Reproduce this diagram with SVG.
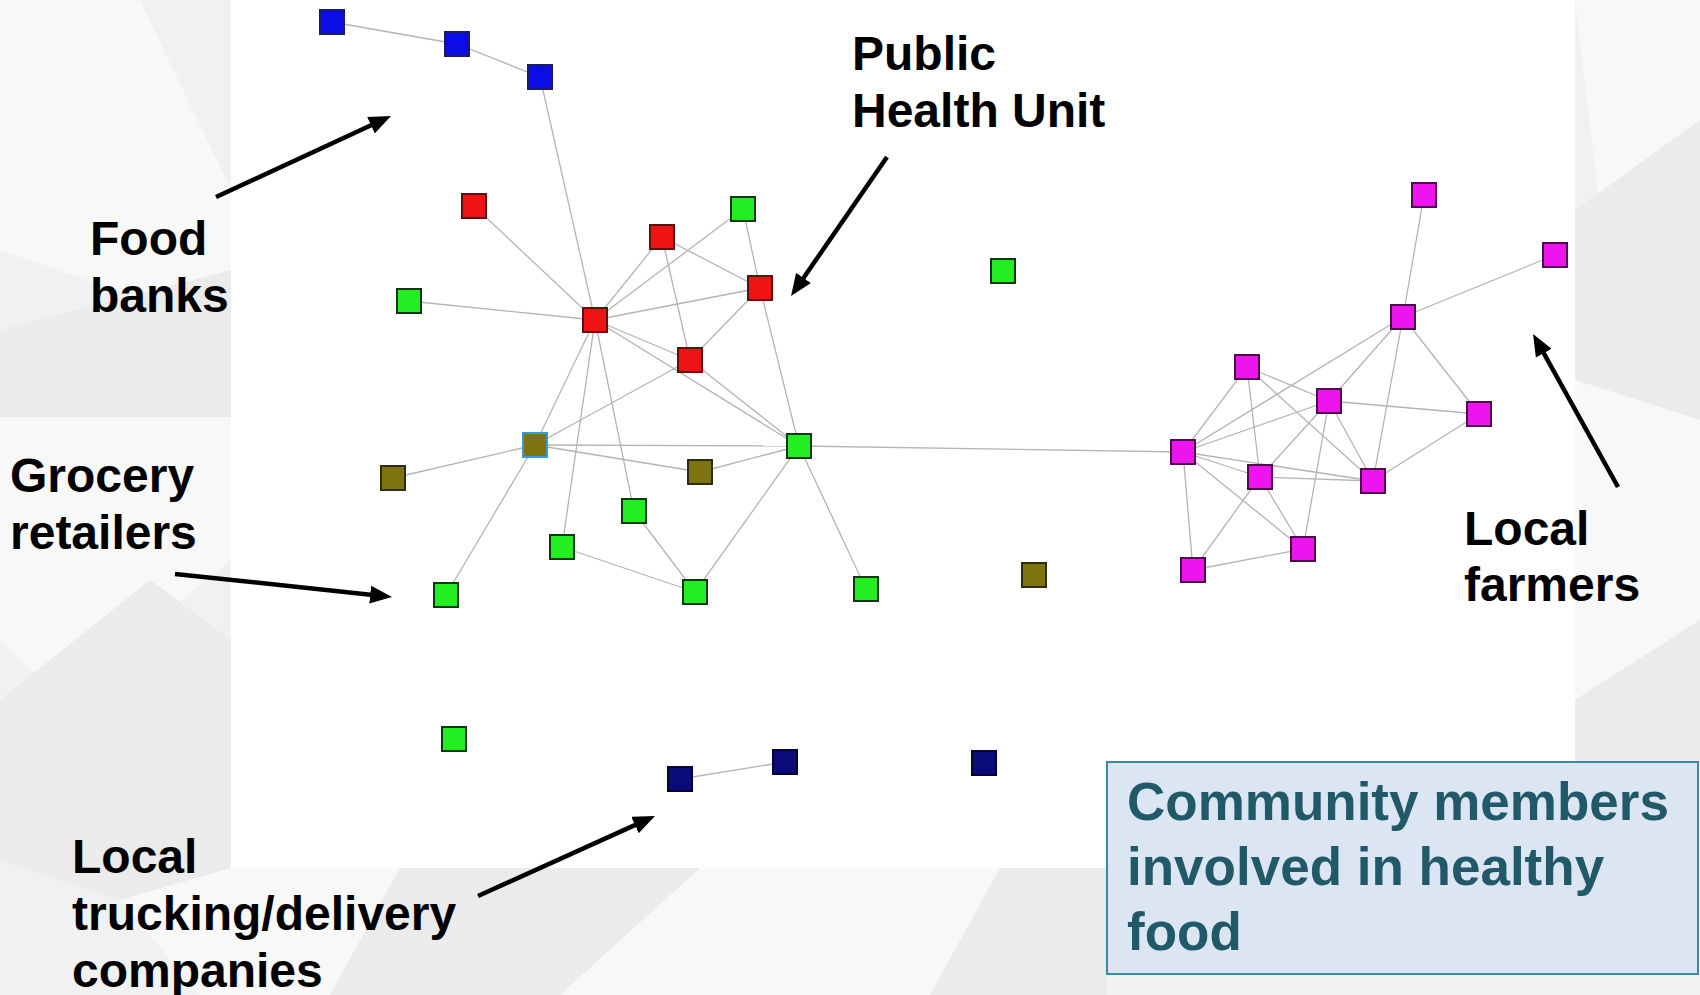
<svg xmlns="http://www.w3.org/2000/svg" width="1700" height="995" viewBox="0 0 1700 995">
<style>
.bg{fill:#f1f1f1}
.pl{fill:#f8f8f8}
.pd{fill:#ebebeb}
.e{stroke:#b4b4b4;stroke-width:1.3;fill:none}
.n rect{stroke-width:2}
.blue{fill:#0c0ce6;stroke:#1c1c66}
.red{fill:#ee1414;stroke:#5c1010}
.grn{fill:#22ee22;stroke:#123512}
.olv{fill:#7d7410;stroke:#2e2c10}
.olb{fill:#7d7410;stroke:#3a9ad8}
.nav{fill:#0a0a78;stroke:#05052e}
.mag{fill:#ee14ee;stroke:#4c0c4c}
.lbl{font-family:"Liberation Sans",Arial,sans-serif;font-weight:bold;font-size:48px;fill:#000}
.box{fill:#dce6f2;stroke:#3b8ba6;stroke-width:2}
.btx{font-family:"Liberation Sans",Arial,sans-serif;font-weight:bold;font-size:53px;fill:#215968}
.arr{stroke:#000;stroke-width:4.5;fill:none;marker-end:url(#ah)}
</style>
<defs>
<marker id="ah" viewBox="0 0 22 18" refX="12" refY="9" markerWidth="22" markerHeight="18" markerUnits="userSpaceOnUse" orient="auto">
<path d="M0,0 L22,9 L0,18 z" fill="#000"/>
</marker>
</defs>
<g id="background">
<rect class="bg" x="0" y="0" width="1700" height="995"/>
<polygon class="pl" points="0,0 140,0 231,190 231,330 0,250"/>
<polygon class="pd" points="0,330 231,270 231,417 0,417"/>
<polygon class="pl" points="0,417 231,417 231,560 60,700 0,640"/>
<polygon class="pd" points="0,700 150,580 231,640 231,868 120,900 0,860"/>
<polygon class="pl" points="120,900 231,868 400,868 330,995 200,995"/>
<polygon class="pd" points="400,868 700,868 560,995 330,995"/>
<polygon class="pl" points="700,868 1000,868 930,995 560,995"/>
<polygon class="pd" points="1000,868 1107,868 1107,995 930,995"/>
<polygon class="pl" points="1575,0 1700,0 1700,120 1600,210"/>
<polygon class="pd" points="1575,210 1700,120 1700,420 1575,380"/>
<polygon class="pl" points="1575,380 1700,420 1700,620 1575,700"/>
<polygon class="pd" points="1575,700 1700,620 1700,762 1575,762"/>
<rect x="231" y="0" width="1344" height="868" fill="#ffffff"/>
</g>
<g id="connectors">
<line class="e" x1="332" y1="22" x2="457" y2="44"/>
<line class="e" x1="457" y1="44" x2="540" y2="77"/>
<line class="e" x1="540" y1="77" x2="595" y2="320"/>
<line class="e" x1="474" y1="206" x2="595" y2="320"/>
<line class="e" x1="409" y1="301" x2="595" y2="320"/>
<line class="e" x1="662" y1="237" x2="595" y2="320"/>
<line class="e" x1="743" y1="209" x2="595" y2="320"/>
<line class="e" x1="760" y1="288" x2="595" y2="320"/>
<line class="e" x1="595" y1="320" x2="690" y2="360"/>
<line class="e" x1="595" y1="320" x2="799" y2="446"/>
<line class="e" x1="595" y1="320" x2="535" y2="445"/>
<line class="e" x1="595" y1="320" x2="562" y2="547"/>
<line class="e" x1="595" y1="320" x2="634" y2="511"/>
<line class="e" x1="662" y1="237" x2="760" y2="288"/>
<line class="e" x1="662" y1="237" x2="690" y2="360"/>
<line class="e" x1="743" y1="209" x2="760" y2="288"/>
<line class="e" x1="760" y1="288" x2="799" y2="446"/>
<line class="e" x1="760" y1="288" x2="690" y2="360"/>
<line class="e" x1="690" y1="360" x2="799" y2="446"/>
<line class="e" x1="690" y1="360" x2="535" y2="445"/>
<line class="e" x1="535" y1="445" x2="799" y2="446"/>
<line class="e" x1="535" y1="445" x2="700" y2="472"/>
<line class="e" x1="700" y1="472" x2="799" y2="446"/>
<line class="e" x1="393" y1="478" x2="535" y2="445"/>
<line class="e" x1="535" y1="445" x2="446" y2="595"/>
<line class="e" x1="634" y1="511" x2="695" y2="592"/>
<line class="e" x1="562" y1="547" x2="695" y2="592"/>
<line class="e" x1="695" y1="592" x2="799" y2="446"/>
<line class="e" x1="799" y1="446" x2="866" y2="589"/>
<line class="e" x1="799" y1="446" x2="1183" y2="452"/>
<line class="e" x1="680" y1="779" x2="785" y2="762"/>
<line class="e" x1="1424" y1="195" x2="1403" y2="317"/>
<line class="e" x1="1555" y1="255" x2="1403" y2="317"/>
<line class="e" x1="1403" y1="317" x2="1183" y2="452"/>
<line class="e" x1="1403" y1="317" x2="1329" y2="401"/>
<line class="e" x1="1403" y1="317" x2="1373" y2="481"/>
<line class="e" x1="1403" y1="317" x2="1479" y2="414"/>
<line class="e" x1="1247" y1="367" x2="1183" y2="452"/>
<line class="e" x1="1247" y1="367" x2="1260" y2="477"/>
<line class="e" x1="1247" y1="367" x2="1329" y2="401"/>
<line class="e" x1="1247" y1="367" x2="1373" y2="481"/>
<line class="e" x1="1329" y1="401" x2="1479" y2="414"/>
<line class="e" x1="1329" y1="401" x2="1183" y2="452"/>
<line class="e" x1="1329" y1="401" x2="1260" y2="477"/>
<line class="e" x1="1329" y1="401" x2="1373" y2="481"/>
<line class="e" x1="1329" y1="401" x2="1303" y2="549"/>
<line class="e" x1="1183" y1="452" x2="1260" y2="477"/>
<line class="e" x1="1183" y1="452" x2="1373" y2="481"/>
<line class="e" x1="1183" y1="452" x2="1303" y2="549"/>
<line class="e" x1="1183" y1="452" x2="1193" y2="570"/>
<line class="e" x1="1260" y1="477" x2="1373" y2="481"/>
<line class="e" x1="1260" y1="477" x2="1303" y2="549"/>
<line class="e" x1="1260" y1="477" x2="1193" y2="570"/>
<line class="e" x1="1193" y1="570" x2="1303" y2="549"/>
<line class="e" x1="1373" y1="481" x2="1479" y2="414"/>
</g>
<g id="nodes" class="n">
<g id="food-bank-1"><rect class="blue" x="320" y="10" width="24" height="24"/></g>
<g id="food-bank-2"><rect class="blue" x="445" y="32" width="24" height="24"/></g>
<g id="food-bank-3"><rect class="blue" x="528" y="65" width="24" height="24"/></g>
<g id="phu-1"><rect class="red" x="462" y="194" width="24" height="24"/></g>
<g id="phu-2"><rect class="red" x="650" y="225" width="24" height="24"/></g>
<g id="phu-3"><rect class="red" x="748" y="276" width="24" height="24"/></g>
<g id="phu-4"><rect class="red" x="583" y="308" width="24" height="24"/></g>
<g id="phu-5"><rect class="red" x="678" y="348" width="24" height="24"/></g>
<g id="g-1"><rect class="grn" x="731" y="197" width="24" height="24"/></g>
<g id="g-2"><rect class="grn" x="397" y="289" width="24" height="24"/></g>
<g id="g-3"><rect class="grn" x="787" y="434" width="24" height="24"/></g>
<g id="g-4"><rect class="grn" x="991" y="259" width="24" height="24"/></g>
<g id="g-5"><rect class="grn" x="622" y="499" width="24" height="24"/></g>
<g id="g-6"><rect class="grn" x="550" y="535" width="24" height="24"/></g>
<g id="g-7"><rect class="grn" x="434" y="583" width="24" height="24"/></g>
<g id="g-8"><rect class="grn" x="683" y="580" width="24" height="24"/></g>
<g id="g-9"><rect class="grn" x="854" y="577" width="24" height="24"/></g>
<g id="g-10"><rect class="grn" x="442" y="727" width="24" height="24"/></g>
<g id="o-1"><rect class="olb" x="523" y="433" width="24" height="24"/></g>
<g id="o-2"><rect class="olv" x="381" y="466" width="24" height="24"/></g>
<g id="o-3"><rect class="olv" x="688" y="460" width="24" height="24"/></g>
<g id="o-4"><rect class="olv" x="1022" y="563" width="24" height="24"/></g>
<g id="truck-1"><rect class="nav" x="668" y="767" width="24" height="24"/></g>
<g id="truck-2"><rect class="nav" x="773" y="750" width="24" height="24"/></g>
<g id="truck-3"><rect class="nav" x="972" y="751" width="24" height="24"/></g>
<g id="farm-1"><rect class="mag" x="1412" y="183" width="24" height="24"/></g>
<g id="farm-2"><rect class="mag" x="1543" y="243" width="24" height="24"/></g>
<g id="farm-3"><rect class="mag" x="1391" y="305" width="24" height="24"/></g>
<g id="farm-4"><rect class="mag" x="1235" y="355" width="24" height="24"/></g>
<g id="farm-5"><rect class="mag" x="1317" y="389" width="24" height="24"/></g>
<g id="farm-6"><rect class="mag" x="1467" y="402" width="24" height="24"/></g>
<g id="farm-7"><rect class="mag" x="1171" y="440" width="24" height="24"/></g>
<g id="farm-8"><rect class="mag" x="1248" y="465" width="24" height="24"/></g>
<g id="farm-9"><rect class="mag" x="1361" y="469" width="24" height="24"/></g>
<g id="farm-10"><rect class="mag" x="1181" y="558" width="24" height="24"/></g>
<g id="farm-11"><rect class="mag" x="1291" y="537" width="24" height="24"/></g>
</g>
<g id="annotations">
<line class="arr" x1="216" y1="197" x2="381.9" y2="120.2"/>
<line class="arr" x1="887" y1="157" x2="796.7" y2="287.8"/>
<line class="arr" x1="175" y1="574" x2="382.1" y2="595.9"/>
<line class="arr" x1="478" y1="896" x2="645.9" y2="820.1"/>
<line class="arr" x1="1618" y1="487" x2="1537.9" y2="342.7"/>
<g id="label-food-banks"><text class="lbl" x="90" y="255">Food</text><text class="lbl" x="90" y="312">banks</text></g>
<g id="label-phu"><text class="lbl" x="852" y="70">Public</text><text class="lbl" x="852" y="127">Health Unit</text></g>
<g id="label-grocery"><text class="lbl" x="10" y="492">Grocery</text><text class="lbl" x="10" y="549">retailers</text></g>
<g id="label-trucking"><text class="lbl" x="72" y="873">Local</text><text class="lbl" x="72" y="930">trucking/delivery</text><text class="lbl" x="72" y="987">companies</text></g>
<g id="label-farmers"><text class="lbl" x="1464" y="545">Local</text><text class="lbl" x="1464" y="601">farmers</text></g>
</g>
<g id="community-box">
<rect class="box" x="1107" y="762" width="591" height="212"/>
<text class="btx" x="1127" y="820">Community members</text>
<text class="btx" x="1127" y="885">involved in healthy</text>
<text class="btx" x="1127" y="950">food</text>
</g>
</svg>
